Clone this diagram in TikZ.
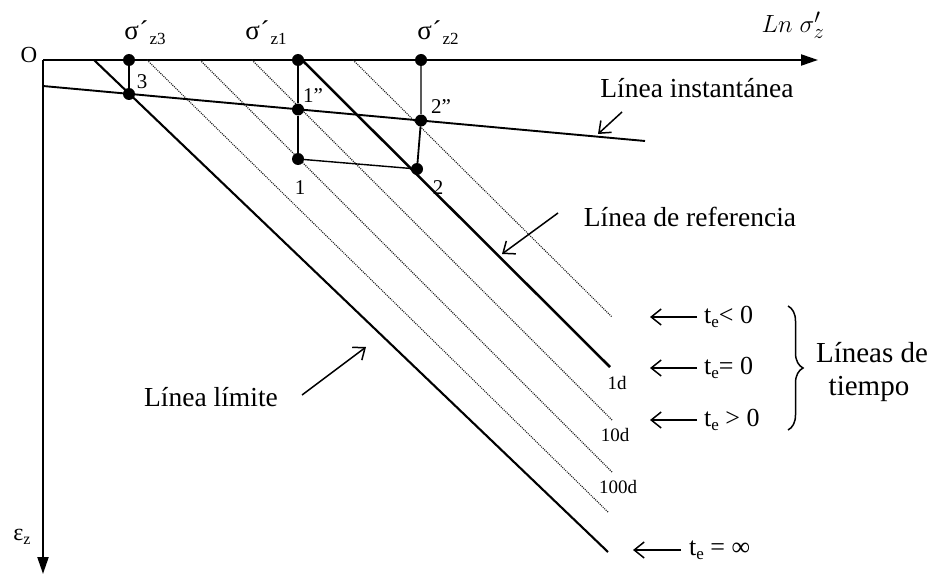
\documentclass[tikz,border=0pt]{standalone}
\usepackage{fontspec}
\setmainfont{Liberation Serif}
\usetikzlibrary{arrows.meta,decorations.pathreplacing}
\newcommand\sigl[1]{σ\kern0.5pt´\kern1pt\raisebox{-5pt}{\fontsize{17}{17}\selectfont #1}}
\newcommand\tsub[1]{t\raisebox{-4pt}{\fontsize{17}{17}\selectfont e}#1}
\begin{document}
\begin{tikzpicture}[x=1pt,y=-1pt,
  axis/.style={line width=2.2pt,-{Triangle[length=17pt,width=11pt]}},
  solidl/.style={line width=2.1pt},
  dotl/.style={line width=1.1pt,dash pattern=on 1pt off 1.1pt,black!90},
  conn/.style={line width=1.8pt},
  dot/.style={circle,fill=black,inner sep=0pt,minimum size=12pt},
  lbl/.style={font=\fontsize{27.5}{30}\selectfont,inner sep=0pt},
  sm/.style={font=\fontsize{21}{23}\selectfont,inner sep=0pt},
  dl/.style={font=\fontsize{19}{21}\selectfont,inner sep=0pt},
  sig/.style={font=\fontsize{27}{29}\selectfont,inner sep=0pt},
  tl/.style={font=\fontsize{26}{28}\selectfont,inner sep=0pt,anchor=west},
  parr/.style={line width=1.5pt,-{Straight Barb[length=10pt,width=16pt]}},
]
\useasboundingbox (0,0) rectangle (937,575);
% axes
\coordinate (O) at (43,60);
\coordinate (X) at (818,60);
\coordinate (Y) at (43,574);
\draw[axis] (O) -- (X);
\draw[axis] (O) -- (Y);
% dotted time lines
\coordinate (d1a) at (147,60);  \coordinate (d1b) at (608,512);
\coordinate (d2a) at (200,60);  \coordinate (d2b) at (612,472);
\coordinate (d3a) at (252,60);  \coordinate (d3b) at (612,420);
\coordinate (d4a) at (353,60);  \coordinate (d4b) at (612,317);
\draw[dotl] (d1a) -- (d1b);
\draw[dotl] (d2a) -- (d2b);
\draw[dotl] (d3a) -- (d3b);
\draw[dotl] (d4a) -- (d4b);
% solid lines
\coordinate (la) at (94,60);   \coordinate (lb) at (608,552);
\coordinate (ra) at (302,60);  \coordinate (rb) at (610,367);
\draw[solidl] (la) -- (lb);
\draw[solidl,line width=2.5pt] (ra) -- (rb);
% instantaneous line
\coordinate (ia) at (43,86);  \coordinate (ib) at (645,141);
\draw[line width=1.9pt] (ia) -- (ib);
% points
\node[dot] (s3) at (129,60) {};
\node[dot] (p3) at (129,94) {};
\node[dot] (s1) at (298,60) {};
\node[dot] (p1pp) at (298,109.5) {};
\node[dot] (p1) at (298,159) {};
\node[dot] (s2) at (421,60) {};
\node[dot] (p2pp) at (421,120.5) {};
\node[dot] (p2) at (417,169) {};
\draw[conn] (s3) -- (p3);
\draw[conn] (s1) -- (p1pp) -- (p1);
\draw[conn,black!65] (s2) -- (p2pp);
\draw[conn] (p2pp) -- (p2);
\draw[line width=1.4pt] (p1) -- (p2);
% axis labels
\node[font=\fontsize{23}{25}\selectfont,inner sep=0pt] (lO) at (29,55) {O};
\node[font=\fontsize{24}{26}\selectfont,inner sep=0pt] (leps) at (22,537) {ε\raisebox{-4pt}{\fontsize{16}{16}\selectfont z}};
\node[font=\fontsize{29}{31}\selectfont,inner sep=0pt] (lln) at (793,25) {$Ln\;\sigma'_z$};
% sigma labels
\node[sig] (ls3) at (145,33) {\sigl{z3}};
\node[sig] (ls1) at (266,33) {\sigl{z1}};
\node[sig] (ls2) at (438,33) {\sigl{z2}};
% point labels
\node[sm] (l3) at (142,82) {3};
\node[sm] (l1pp) at (313,96) {1”};
\node[sm] (l2pp) at (441,107) {2”};
\node[sm] (l1) at (300,188) {1};
\node[sm] (l2) at (438,188) {2};
% line labels
\node[lbl] (tinst) at (697,88) {Línea instantánea};
\coordinate (ai1) at (622,112); \coordinate (ai2) at (598,134);
\draw[parr] (ai1) -- (ai2);
\node[lbl] (tref) at (690,217) {Línea de referencia};
\coordinate (ar1) at (558,213); \coordinate (ar2) at (502,254);
\draw[parr] (ar1) -- (ar2);
\node[lbl] (tlim) at (211,397) {Línea límite};
\coordinate (al1) at (302,395); \coordinate (al2) at (366,347);
\draw[parr] (al1) -- (al2);
% day labels
\node[dl] (l1d) at (617,383) {1d};
\node[dl] (l10d) at (615,435) {10d};
\node[dl] (l100d) at (618,487) {100d};
% te labels
\node[tl] (te1) at (704,317) {\tsub{< 0}};
\node[tl] (te2) at (704,368) {\tsub{= 0}};
\node[tl] (te3) at (704,420) {\tsub{ > 0}};
\node[tl] (te4) at (689,550) {\tsub{ = ∞}};
\draw[parr] (te1.west) ++(-7,0) coordinate (e1) -- ++(-47,0) coordinate (f1);
\draw[parr] (te2.west) ++(-7,0) coordinate (e2) -- ++(-47,0) coordinate (f2);
\draw[parr] (te3.west) ++(-7,0) coordinate (e3) -- ++(-47,0) coordinate (f3);
\draw[parr] (te4.west) ++(-8,0) coordinate (e4) -- ++(-48,0) coordinate (f4);
% brace
\coordinate (b1) at (788,306); \coordinate (b2) at (788,430);
\draw[line width=1.5pt,decorate,decoration={brace,amplitude=15pt}] (b1) -- (b2);
\node[font=\fontsize{29}{31}\selectfont,inner sep=0pt] (tlt1) at (872,353) {Líneas de};
\node[font=\fontsize{29}{31}\selectfont,inner sep=0pt] (tlt2) at (869,389) {tiempo};
\end{tikzpicture}
\end{document}
